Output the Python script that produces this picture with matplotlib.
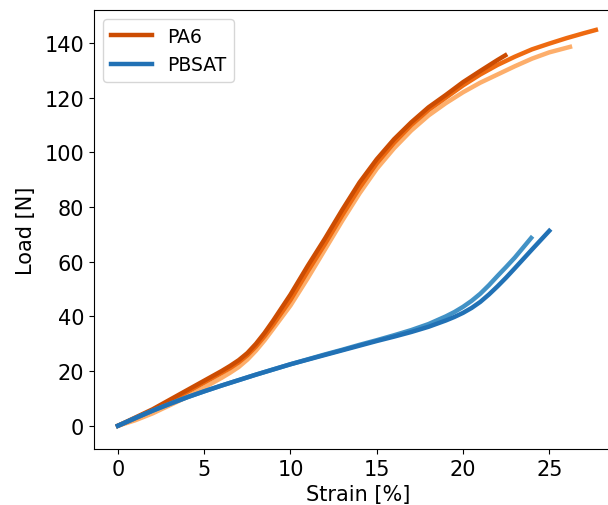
import matplotlib
matplotlib.use("Agg")
import matplotlib.pyplot as plt

# PA6 specimens (strain %, load N)
pa6_a_strain = [0, 1, 2, 3, 4, 5, 6, 6.5, 7, 7.5, 8, 8.5, 9, 10, 11, 12, 13, 14, 15, 16, 17, 18, 19, 20, 21, 22, 22.45]
pa6_a_load = [0, 3, 6, 9.5, 13, 16.5, 20, 21.9, 24, 26.6, 30, 34, 38.5, 48, 58.5, 68.5, 79, 89, 97.5, 104.8, 111, 116.5, 121, 125.7, 129.8, 133.8, 135.5]

pa6_b_strain = [0, 1, 2, 3, 4, 5, 6, 6.5, 7, 7.5, 8, 8.5, 9, 10, 11, 12, 13, 14, 15, 16, 17, 18, 19, 20, 21, 22, 23, 24, 25, 26, 27, 27.7]
pa6_b_load = [0, 2.7, 5.6, 9, 12.3, 15.8, 19.3, 21.1, 23.2, 25.8, 29, 32.8, 37, 46, 56.5, 66.5, 77, 87, 96, 103.5, 110, 115.5, 120, 124.5, 128.5, 132, 135, 137.7, 139.8, 141.8, 143.6, 144.8]

pa6_c_strain = [0, 1, 2, 3, 4, 5, 6, 6.5, 7, 7.5, 8, 8.5, 9, 10, 11, 12, 13, 14, 15, 16, 17, 18, 19, 20, 21, 22, 23, 24, 25, 26.2]
pa6_c_load = [0, 2, 4.5, 7.5, 10.5, 14, 17.5, 19.4, 21.5, 24.2, 27.5, 31.3, 35.5, 44, 54, 64.5, 75, 85, 94, 101.5, 108, 113.5, 118, 122, 125.5, 128.5, 131.5, 134.3, 136.6, 138.6]

# PBSAT specimens
pbsat_a_strain = [0, 1, 2, 3, 4, 5, 6, 7, 8, 9, 10, 11, 12, 13, 14, 15, 16, 17, 18, 19, 19.5, 20, 20.5, 21, 21.5, 22, 22.5, 23, 24, 25]
pbsat_a_load = [0, 2.8, 5.5, 8, 10.4, 12.6, 14.7, 16.7, 18.7, 20.6, 22.5, 24.2, 25.9, 27.6, 29.3, 31, 32.6, 34.3, 36.2, 38.5, 39.8, 41.3, 43.1, 45.3, 48, 51, 54.2, 57.6, 64.5, 71.3]

pbsat_b_strain = [0, 1, 2, 3, 4, 5, 6, 7, 8, 9, 10, 11, 12, 13, 14, 15, 16, 17, 18, 19, 19.5, 20, 20.5, 21, 21.5, 22, 22.5, 23, 23.95]
pbsat_b_load = [0, 2.8, 5.5, 8, 10.4, 12.6, 14.7, 16.7, 18.7, 20.6, 22.5, 24.3, 26.1, 27.8, 29.6, 31.3, 33.1, 35, 37.2, 40, 41.6, 43.5, 45.7, 48.3, 51.4, 54.8, 58.1, 61.5, 68.7]

pa6_colors = ["#cc4c02", "#ee6a10", "#fdae6b"]
pbsat_colors = ["#2171b5", "#4292c6"]

fig = plt.figure(figsize=(6.08, 5.06), dpi=100)
ax = fig.add_axes([0.1546, 0.1107, 0.868, 0.8676])

lw = 3.2
ax.plot(pa6_c_strain, pa6_c_load, color=pa6_colors[2], lw=lw)
ax.plot(pa6_b_strain, pa6_b_load, color=pa6_colors[1], lw=lw)
ax.plot(pa6_a_strain, pa6_a_load, color=pa6_colors[0], lw=lw, label="PA6")
ax.plot(pbsat_b_strain, pbsat_b_load, color=pbsat_colors[1], lw=lw)
ax.plot(pbsat_a_strain, pbsat_a_load, color=pbsat_colors[0], lw=lw, label="PBSAT")

ax.set_xlim(-1.39, 29.2)
ax.set_ylim(-8.5, 152.1)
ax.set_xticks([0, 5, 10, 15, 20, 25])
ax.set_yticks([0, 20, 40, 60, 80, 100, 120, 140])
ax.tick_params(labelsize=15)
ax.set_xlabel("Strain [%]", fontsize=15)
ax.set_ylabel("Load [N]", fontsize=15, labelpad=6)

handles, labels = ax.get_legend_handles_labels()
ax.legend(handles, labels, loc="upper left", fontsize=13.5, handlelength=2.2)

fig.savefig("out.png", dpi=100)
